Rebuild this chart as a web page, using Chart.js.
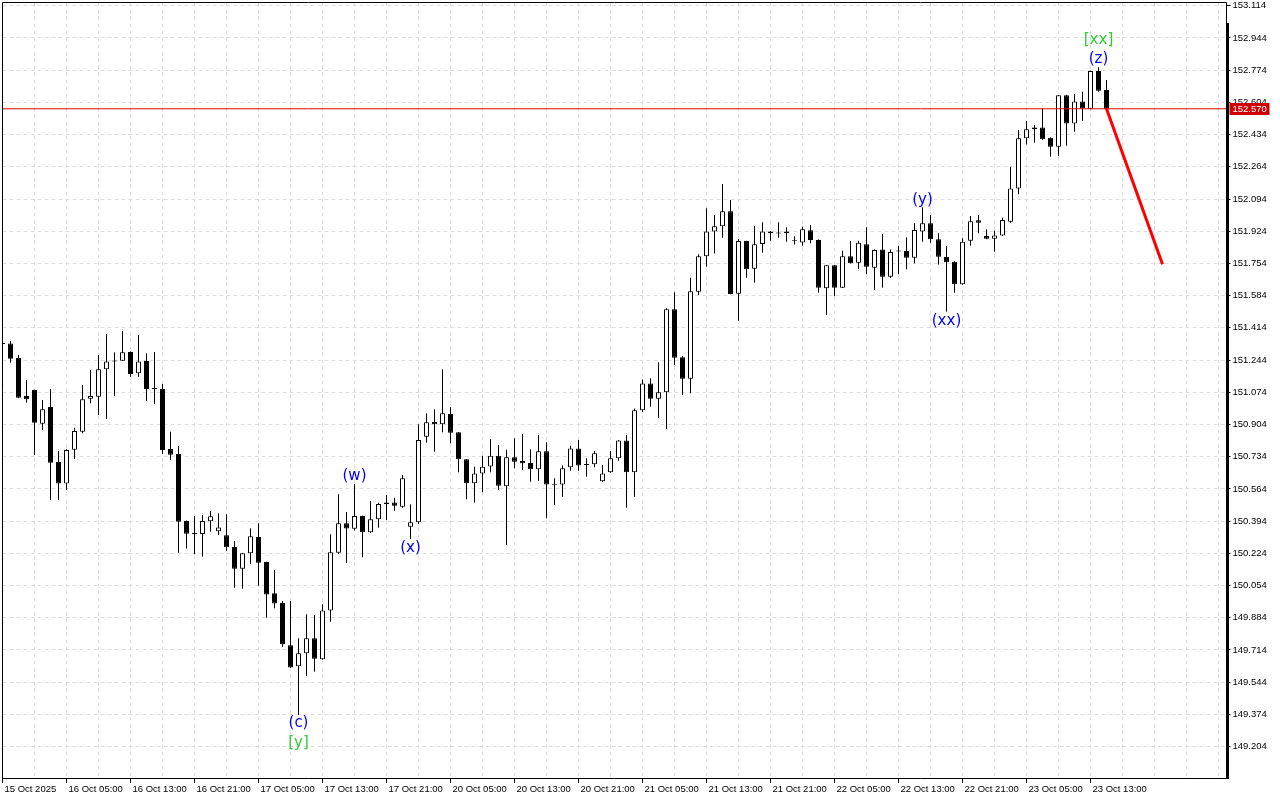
<!DOCTYPE html>
<html>
<head>
<meta charset="utf-8">
<title>H1 chart</title>
<script src="https://cdn.jsdelivr.net/npm/chart.js@4.4.1/dist/chart.umd.min.js"></script>
<style>
    html, body { margin: 0; padding: 0; background: #fff; }
    canvas { display: block; }
</style>
</head>
<body>
<canvas id="chart" width="1280" height="800"></canvas>
<script>
// hourly candles, 15 Oct 21:00 .. 23 Oct 15:00
const openPrices = [
    151.334, 151.332, 151.255, 151.054, 151.086, 150.908, 150.996, 150.706, 150.592, 150.771,
    150.866, 151.040, 151.051, 151.195, 151.237, 151.241, 151.287, 151.174, 151.239, 151.094,
    151.091, 150.775, 150.748, 150.395, 150.328, 150.326, 150.393, 150.340, 150.319, 150.258,
    150.143, 150.224, 150.310, 150.178, 150.013, 149.962, 149.739, 149.628, 149.697, 149.776,
    149.665, 149.923, 150.227, 150.383, 150.354, 150.421, 150.335, 150.404, 150.483, 150.493,
    150.470, 150.365, 150.388, 150.840, 150.917, 150.905, 150.959, 150.863, 150.720, 150.594,
    150.646, 150.683, 150.739, 150.578, 150.731, 150.711, 150.701, 150.668, 150.763, 150.588,
    150.588, 150.678, 150.778, 150.692, 150.694, 150.604, 150.652, 150.726, 150.820, 150.652,
    150.979, 151.121, 151.040, 151.074, 151.512, 151.259, 151.146, 151.605, 151.792, 151.923,
    151.950, 152.029, 151.594, 151.872, 151.726, 151.856, 151.923, 151.914, 151.913, 151.872,
    151.865, 151.929, 151.878, 151.623, 151.744, 151.626, 151.792, 151.758, 151.855, 151.731,
    151.828, 151.684, 151.818, 151.820, 151.784, 151.923, 151.966, 151.881, 151.789, 151.763,
    151.644, 151.874, 151.982, 151.899, 151.884, 151.902, 151.974, 152.150, 152.414, 152.462,
    152.472, 152.417, 152.370, 152.641, 152.493, 152.609, 152.570, 152.769, 152.669
]
const highPrices = [
    151.350, 151.345, 151.271, 151.139, 151.088, 151.033, 151.091, 150.764, 150.773, 150.887,
    151.112, 151.192, 151.271, 151.382, 151.285, 151.397, 151.289, 151.376, 151.280, 151.287,
    151.118, 150.866, 150.791, 150.397, 150.421, 150.426, 150.448, 150.435, 150.430, 150.289,
    150.226, 150.356, 150.383, 150.180, 150.136, 149.973, 149.973, 149.776, 149.902, 149.899,
    149.955, 150.325, 150.536, 150.442, 150.590, 150.423, 150.500, 150.491, 150.532, 150.518,
    150.637, 150.483, 150.905, 150.963, 150.984, 151.195, 150.995, 150.865, 150.722, 150.681,
    150.739, 150.826, 150.796, 150.771, 150.831, 150.854, 150.773, 150.849, 150.810, 150.620,
    150.687, 150.792, 150.822, 150.726, 150.764, 150.690, 150.764, 150.822, 150.849, 150.989,
    151.142, 151.148, 151.232, 151.517, 151.602, 151.265, 151.679, 151.802, 152.045, 152.009,
    152.173, 152.089, 151.883, 151.874, 151.951, 151.971, 151.925, 151.971, 151.945, 151.897,
    151.948, 151.957, 151.880, 151.746, 151.746, 151.821, 151.872, 151.874, 151.945, 151.827,
    151.909, 151.827, 151.847, 151.892, 151.966, 152.050, 152.009, 151.913, 151.846, 151.765,
    151.887, 152.004, 152.009, 151.934, 151.928, 151.995, 152.264, 152.458, 152.505, 152.484,
    152.572, 152.419, 152.643, 152.644, 152.648, 152.660, 152.771, 152.789, 152.722
]
const lowPrices = [
    151.318, 151.230, 151.043, 151.019, 150.743, 150.875, 150.506, 150.506, 150.558, 150.722,
    150.858, 151.016, 150.954, 150.933, 151.054, 151.240, 151.156, 151.156, 151.028, 151.012,
    150.748, 150.717, 150.227, 150.249, 150.219, 150.206, 150.338, 150.321, 150.238, 150.043,
    150.037, 150.168, 150.053, 149.884, 149.934, 149.731, 149.619, 149.371, 149.577, 149.599,
    149.663, 149.863, 150.221, 150.173, 150.344, 150.203, 150.331, 150.359, 150.400, 150.449,
    150.465, 150.300, 150.379, 150.808, 150.760, 150.863, 150.805, 150.652, 150.509, 150.493,
    150.546, 150.652, 150.558, 150.268, 150.673, 150.664, 150.602, 150.607, 150.409, 150.479,
    150.523, 150.660, 150.660, 150.628, 150.678, 150.600, 150.650, 150.713, 150.465, 150.523,
    150.970, 150.998, 150.938, 150.880, 151.218, 151.060, 151.069, 151.587, 151.737, 151.807,
    151.890, 151.591, 151.452, 151.679, 151.652, 151.811, 151.874, 151.890, 151.869, 151.854,
    151.847, 151.860, 151.599, 151.482, 151.582, 151.624, 151.753, 151.725, 151.697, 151.614,
    151.626, 151.677, 151.697, 151.723, 151.755, 151.869, 151.863, 151.749, 151.499, 151.599,
    151.642, 151.847, 151.913, 151.882, 151.816, 151.899, 151.969, 152.119, 152.382, 152.391,
    152.407, 152.317, 152.321, 152.375, 152.449, 152.507, 152.567, 152.660, 152.568
]
const closePrices = [
    151.329, 151.251, 151.045, 151.037, 150.913, 150.984, 150.702, 150.592, 150.769, 150.870,
    151.037, 151.054, 151.195, 151.237, 151.238, 151.285, 151.170, 151.237, 151.091, 151.091,
    150.769, 150.745, 150.391, 150.328, 150.326, 150.395, 150.420, 150.361, 150.256, 150.143,
    150.224, 150.314, 150.175, 150.007, 149.960, 149.744, 149.621, 149.697, 149.776, 149.668,
    149.923, 150.230, 150.383, 150.355, 150.421, 150.335, 150.404, 150.484, 150.493, 150.475,
    150.620, 150.388, 150.822, 150.916, 150.905, 150.963, 150.861, 150.720, 150.594, 150.646,
    150.681, 150.739, 150.581, 150.731, 150.708, 150.699, 150.668, 150.763, 150.588, 150.586,
    150.673, 150.778, 150.687, 150.690, 150.752, 150.646, 150.726, 150.820, 150.652, 150.979,
    151.121, 151.040, 151.074, 151.512, 151.256, 151.146, 151.607, 151.792, 151.923, 151.950,
    152.029, 151.593, 151.872, 151.723, 151.855, 151.923, 151.913, 151.912, 151.923, 151.871,
    151.934, 151.878, 151.626, 151.744, 151.626, 151.792, 151.755, 151.863, 151.737, 151.825,
    151.684, 151.814, 151.817, 151.784, 151.930, 151.966, 151.881, 151.789, 151.760, 151.644,
    151.869, 151.976, 151.969, 151.884, 151.902, 151.983, 152.150, 152.414, 152.462, 152.472,
    152.409, 152.370, 152.641, 152.493, 152.609, 152.572, 152.769, 152.665, 152.570
]

// one label every 8 bars
const xTickLabels = [
    '15 Oct 2025', '16 Oct 05:00', '16 Oct 13:00', '16 Oct 21:00', '17 Oct 05:00', '17 Oct 13:00',
    '17 Oct 21:00', '20 Oct 05:00', '20 Oct 13:00', '20 Oct 21:00', '21 Oct 05:00', '21 Oct 13:00',
    '21 Oct 21:00', '22 Oct 05:00', '22 Oct 13:00', '22 Oct 21:00', '23 Oct 05:00', '23 Oct 13:00'
]
const priceTicks = [
    149.204, 149.374, 149.544, 149.714, 149.884, 150.054, 150.224, 150.394, 150.564, 150.734,
    150.904, 151.074, 151.244, 151.414, 151.584, 151.754, 151.924, 152.094, 152.264, 152.434,
    152.604, 152.774, 152.944, 153.114
]

const lastPrice = 152.570
const forecastIndex = [138, 145]
const forecastPrice = [152.570, 151.750]

const waveText = ['(c)', '[y]', '(w)', '(x)', '(y)', '(xx)', '(z)', '[xx]']
const waveIndex = [37, 37, 44, 51, 115, 118, 137, 137]
const wavePrice = [149.329, 149.223, 150.632, 150.252, 152.089, 151.452, 152.833, 152.933]
const waveDegree = ['minor', 'major', 'minor', 'minor', 'minor', 'minor', 'minor', 'major']

const FONT = 'Liberation Sans'
const degreeColor = { minor: '#0000ff', major: '#33cc33' }

const bodies = openPrices.map((o, i) => ({ x: i, y: [Math.min(o, closePrices[i]), Math.max(o, closePrices[i])] }))
const wicks = openPrices.map((o, i) => ({ x: i, y: [lowPrices[i], highPrices[i]] }))
const rising = openPrices.map((o, i) => closePrices[i] > o)

const labelAt = v => v % 8 === 0 ? (xTickLabels[v / 8] || '') : ''

const noPadding = s => {
    s.paddingTop = 0
    s.paddingBottom = 0
    s.paddingLeft = 0
    s.paddingRight = 0
}

const frame = {
    id: 'frame',
    afterDatasetsDraw: chart => {
        const { ctx, chartArea: a, scales } = chart
        ctx.save()
        ctx.strokeStyle = '#000'
        ctx.lineWidth = 1
        ctx.beginPath()
        ctx.moveTo(a.left, a.bottom)
        ctx.lineTo(a.left, a.top)
        ctx.lineTo(a.right, a.top)
        ctx.lineTo(a.right, a.bottom)
        ctx.stroke()
        ctx.fillStyle = '#000'
        ctx.fillRect(a.right - 0.5, 23, 3, a.bottom - 23 + 1)

        // wave labels
        ctx.font = '15px "DejaVu Sans"'
        ctx.textAlign = 'center'
        ctx.textBaseline = 'middle'
        waveText.forEach((t, i) => {
            ctx.fillStyle = degreeColor[waveDegree[i]]
            ctx.fillText(t, scales.x.getPixelForValue(waveIndex[i]), scales.y.getPixelForValue(wavePrice[i]))
        })
        ctx.restore()
    },
    afterDraw: chart => {
        const { ctx, chartArea: a, scales } = chart
        const y = scales.y.getPixelForValue(lastPrice)
        ctx.save()
        ctx.fillStyle = '#d00000'
        ctx.fillRect(a.right + 3, Math.round(y) - 6, 40, 12)
        ctx.fillStyle = '#fff'
        ctx.font = `9.5px "${FONT}"`
        ctx.textBaseline = 'middle'
        ctx.fillText(lastPrice.toFixed(3), a.right + 6, Math.round(y))
        ctx.restore()
    }
}

new Chart(document.getElementById('chart'), {
    type: 'bar',
    data: {
        datasets: [
            {
                data: wicks, backgroundColor: '#000', borderWidth: 0, barThickness: 1,
                minBarLength: 1, grouped: false, inflateAmount: 0, order: 3
            },
            {
                data: bodies, backgroundColor: ctx => rising[ctx.dataIndex] ? '#fff' : '#000',
                borderColor: '#000', borderWidth: 1, borderSkipped: false, barThickness: 5,
                minBarLength: 1, grouped: false, inflateAmount: 0, order: 2
            },
            {
                type: 'line', data: [{ x: 0, y: lastPrice }, { x: 153, y: lastPrice }],
                borderColor: '#e00000', borderWidth: 1, pointRadius: 0, order: 1
            },
            {
                type: 'line', data: forecastIndex.map((x, i) => ({ x, y: forecastPrice[i] })),
                borderColor: '#ff0000', borderWidth: 3, pointRadius: 0, order: 0
            }
        ]
    },
    options: {
        responsive: false,
        animation: false,
        devicePixelRatio: 1,
        layout: { padding: { left: 2.5, top: 2.5, right: 0, bottom: 0 } },
        plugins: { legend: { display: false }, tooltip: { enabled: false } },
        scales: {
            x: {
                type: 'linear', min: 0, max: 153, offset: false,
                afterBuildTicks: s => { s.ticks = Array.from({ length: 39 }, (_, k) => ({ value: k * 4 })) },
                afterFit: s => { s.height = 22; noPadding(s) },
                grid: {
                    offset: false, color: '#dedede', tickLength: 5,
                    tickColor: ctx => ctx.tick && labelAt(ctx.tick.value) ? '#000' : 'rgba(0,0,0,0)'
                },
                border: { color: '#000', width: 1, dash: [4, 3] },
                ticks: {
                    autoSkip: false, maxRotation: 0, align: 'start', labelOffset: 2, padding: 1,
                    color: '#000', font: { family: FONT, size: 9.5 },
                    callback: v => labelAt(v)
                }
            },
            y: {
                type: 'linear', position: 'right', min: 149.0385, max: 153.131,
                afterBuildTicks: s => { s.ticks = priceTicks.map(v => ({ value: v })) },
                afterFit: s => { s.width = 53.5; noPadding(s) },
                grid: { color: '#dedede', tickLength: 4, tickColor: '#000' },
                border: { display: false, dash: [4, 3] },
                ticks: {
                    padding: 2, color: '#000', font: { family: FONT, size: 9.5 },
                    callback: v => v.toFixed(3)
                }
            }
        }
    },
    plugins: [frame]
})
</script>
</body>
</html>
